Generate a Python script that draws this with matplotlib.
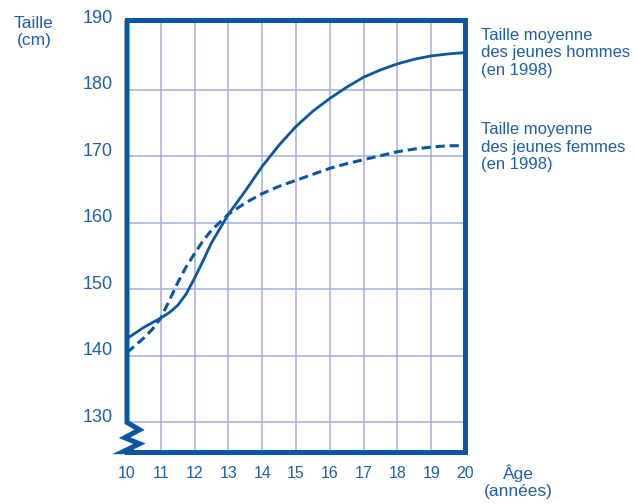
import numpy as np
import matplotlib
matplotlib.use('Agg')
import matplotlib.pyplot as plt
import matplotlib.transforms as mtransforms

plt.rcParams['font.family'] = ['Liberation Sans', 'DejaVu Sans']

# ages (years) and mean heights (cm)
ages = [10, 10.5, 10.75, 11, 11.25, 11.5, 11.75, 12, 12.25, 12.5, 13, 13.5, 14, 14.5, 15,
        15.5, 16, 16.5, 17, 17.5, 18, 18.5, 19, 19.5, 20]
men = [142.6, 144.3, 145.0, 145.7, 146.5, 147.6, 149.3, 151.7, 154.3, 157.0, 161.3, 164.8,
       168.5, 171.7, 174.5, 176.8, 178.7, 180.4, 181.9, 183.0, 183.9, 184.6, 185.1, 185.4, 185.6]
women = [140.5, 142.7, 144.0, 145.7, 148.3, 151.0, 153.4, 155.4, 157.3, 158.9, 161.3, 163.0,
         164.4, 165.5, 166.4, 167.3, 168.2, 168.9, 169.5, 170.1, 170.7, 171.1, 171.4, 171.6, 171.6]

x_ticks = list(range(10, 21))
y_ticks = [130, 140, 150, 160, 170, 180, 190]

blue = '#0a57a0'
txt = '#1f5fa6'
grid_c = '#a4addb'

fig = plt.figure(figsize=(6.36, 5.04), dpi=100)
ax = fig.add_axes([127 / 636, 52.3 / 504, 338 / 636, 431.7 / 504])
ax.set_xlim(10, 20)
ax.set_ylim(125.6, 190.5)

# grid
for xv in x_ticks[1:-1]:
    ax.axvline(xv, color=grid_c, lw=1.1, zorder=1)
for yv in y_ticks[:-1]:
    ax.axhline(yv, color=grid_c, lw=1.1, zorder=1)

# curves
ax.plot(ages, men, color=blue, lw=2.0, zorder=3, solid_joinstyle='round')
ax.plot(ages, women, color=blue, lw=2.2, zorder=3, dashes=(3, 1.6))

# frame
for s in ['top', 'right', 'bottom']:
    ax.spines[s].set_linewidth(3.6)
    ax.spines[s].set_color(blue)
ax.spines['left'].set_visible(False)
# left border with the axis break (zigzag) at the bottom
zx = [10.0, 10.0, 10.37, 9.93, 10.37, 9.88, 10.2]
zy = [190.5, 130, 128.9, 127.7, 126.8, 125.6, 125.6]
ax.plot(zx, zy, color=blue, lw=3.6, clip_on=False, zorder=4,
        solid_joinstyle='miter', solid_capstyle='butt')

ax.set_xticks(x_ticks)
ax.set_yticks(y_ticks)
ax.tick_params(length=0, colors=txt)
ax.tick_params(axis='x', pad=10, labelsize=11.5)
ax.tick_params(axis='y', pad=10, labelsize=13)
off = mtransforms.ScaledTranslation(0, 7 / 100, fig.dpi_scale_trans)
for lab in ax.get_yticklabels():
    lab.set_transform(lab.get_transform() + off)

fig.text(34 / 636, 1 - 32 / 504, 'Taille\n(cm)', ha='center', va='center',
         color=txt, fontsize=12.5, linespacing=1.2)
fig.text(518 / 636, 1 - 482 / 504, 'Âge\n(années)', ha='center', va='center',
         color=txt, fontsize=12.5, linespacing=1.2)
fig.text(481 / 636, 1 - 53 / 504, 'Taille moyenne\ndes jeunes hommes\n(en 1998)',
         ha='left', va='center', color=txt, fontsize=12, linespacing=1.18)
fig.text(481 / 636, 1 - 147 / 504, 'Taille moyenne\ndes jeunes femmes\n(en 1998)',
         ha='left', va='center', color=txt, fontsize=12, linespacing=1.18)

fig.savefig('out.png', dpi=100)
